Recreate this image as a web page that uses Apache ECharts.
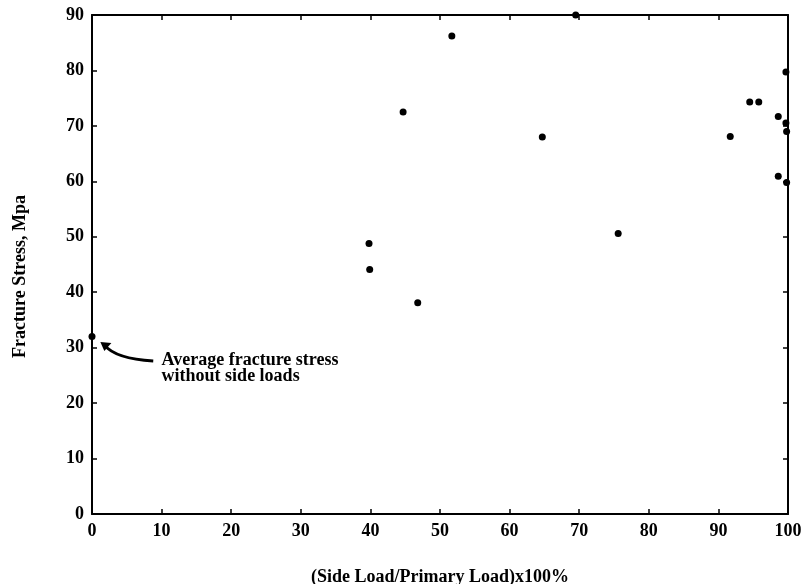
<!DOCTYPE html>
<html>
<head>
<meta charset="utf-8">
<script src="https://cdn.jsdelivr.net/npm/echarts@6/dist/echarts.min.js"></script>
<style>
  html, body { margin: 0; padding: 0; background: #fff; }
  #chart { width: 805px; height: 584px; }
</style>
</head>
<body>
<div id="chart"></div>
<script>
// side load ratio (%) and fracture stress (MPa)
var sideLoad = [0, 39.8, 39.9, 44.7, 46.8, 51.7, 64.7, 69.5, 75.6, 91.7, 94.5, 95.8, 98.6, 98.6, 99.7, 99.7, 99.8, 99.8];
var stress   = [32.0, 48.8, 44.1, 72.5, 38.1, 86.2, 68.0, 90.0, 50.6, 68.1, 74.3, 74.3, 71.7, 60.9, 79.7, 70.5, 69.0, 59.8];
var noteText = ['Average fracture stress', 'without side loads'];

var serif = 'Liberation Serif';
var pts = [];
for (var i = 0; i < sideLoad.length; i++) {
    pts.push([sideLoad[i], stress[i]]);
}

var myChart = echarts.init(document.getElementById('chart'));

var frameAxis = {
    axisLine: {show: true, onZero: false, lineStyle: {color: '#000', width: 2}},
    axisTick: {show: true, inside: true, length: 5, lineStyle: {color: '#000', width: 1.5}},
    splitLine: {show: false}
};

var option = {
    animation: false,
    grid: {left: 92, right: 17, top: 15, bottom: 70, outerBoundsMode: 'none', containLabel: false},
    xAxis: [
        echarts.util.merge({
            type: 'value', min: 0, max: 100, interval: 10, position: 'bottom',
            name: '(Side Load/Primary Load)x100%',
            nameLocation: 'middle', nameGap: 54,
            nameTextStyle: {fontFamily: serif, fontWeight: 'bold', fontSize: 18, color: '#000'},
            axisLabel: {fontFamily: serif, fontWeight: 'bold', fontSize: 18, color: '#000', margin: 8}
        }, frameAxis, true),
        echarts.util.merge({
            type: 'value', min: 0, max: 100, interval: 10, position: 'top',
            axisLabel: {show: false}
        }, frameAxis, true)
    ],
    yAxis: [
        echarts.util.merge({
            type: 'value', min: 0, max: 90, interval: 10, position: 'left',
            name: 'Fracture Stress, Mpa',
            nameLocation: 'middle', nameGap: 63, nameRotate: 90,
            nameTextStyle: {fontFamily: serif, fontWeight: 'bold', fontSize: 18, color: '#000', padding: [0, 24, 0, 0]},
            axisLabel: {fontFamily: serif, fontWeight: 'bold', fontSize: 18, color: '#000', margin: 8}
        }, frameAxis, true),
        echarts.util.merge({
            type: 'value', min: 0, max: 90, interval: 10, position: 'right',
            axisLabel: {show: false}
        }, frameAxis, true)
    ],
    series: [
        {
            type: 'scatter',
            data: pts,
            symbolSize: 7,
            itemStyle: {color: '#000', opacity: 1}
        }
    ]
};
myChart.setOption(option);

// annotation arrow + text placed from data coordinates
var head = myChart.convertToPixel({xAxisIndex: 0, yAxisIndex: 0}, [1.2, 31.0]);
var tail = myChart.convertToPixel({xAxisIndex: 0, yAxisIndex: 0}, [8.8, 27.6]);
var ctrl = myChart.convertToPixel({xAxisIndex: 0, yAxisIndex: 0}, [3.4, 28.0]);
var txt = myChart.convertToPixel({xAxisIndex: 0, yAxisIndex: 0}, [10.0, 29.2]);

myChart.setOption({
    graphic: [
        {
            type: 'bezierCurve',
            shape: {x1: tail[0], y1: tail[1], x2: head[0] + 4, y2: head[1] + 3, cpx1: ctrl[0], cpy1: ctrl[1]},
            style: {stroke: '#000', lineWidth: 3, fill: null}
        },
        {
            type: 'polygon',
            shape: {points: [[head[0], head[1]], [head[0] + 11, head[1] + 1], [head[0] + 4, head[1] + 9]]},
            style: {fill: '#000'}
        },
        {
            type: 'text',
            x: txt[0], y: txt[1],
            style: {
                text: noteText.join('\n'),
                font: 'bold 18px "Liberation Serif"',
                fill: '#000',
                lineHeight: 16
            }
        }
    ]
});

window.addEventListener('resize', function () {
    myChart.resize();
});
</script>
</body>
</html>
